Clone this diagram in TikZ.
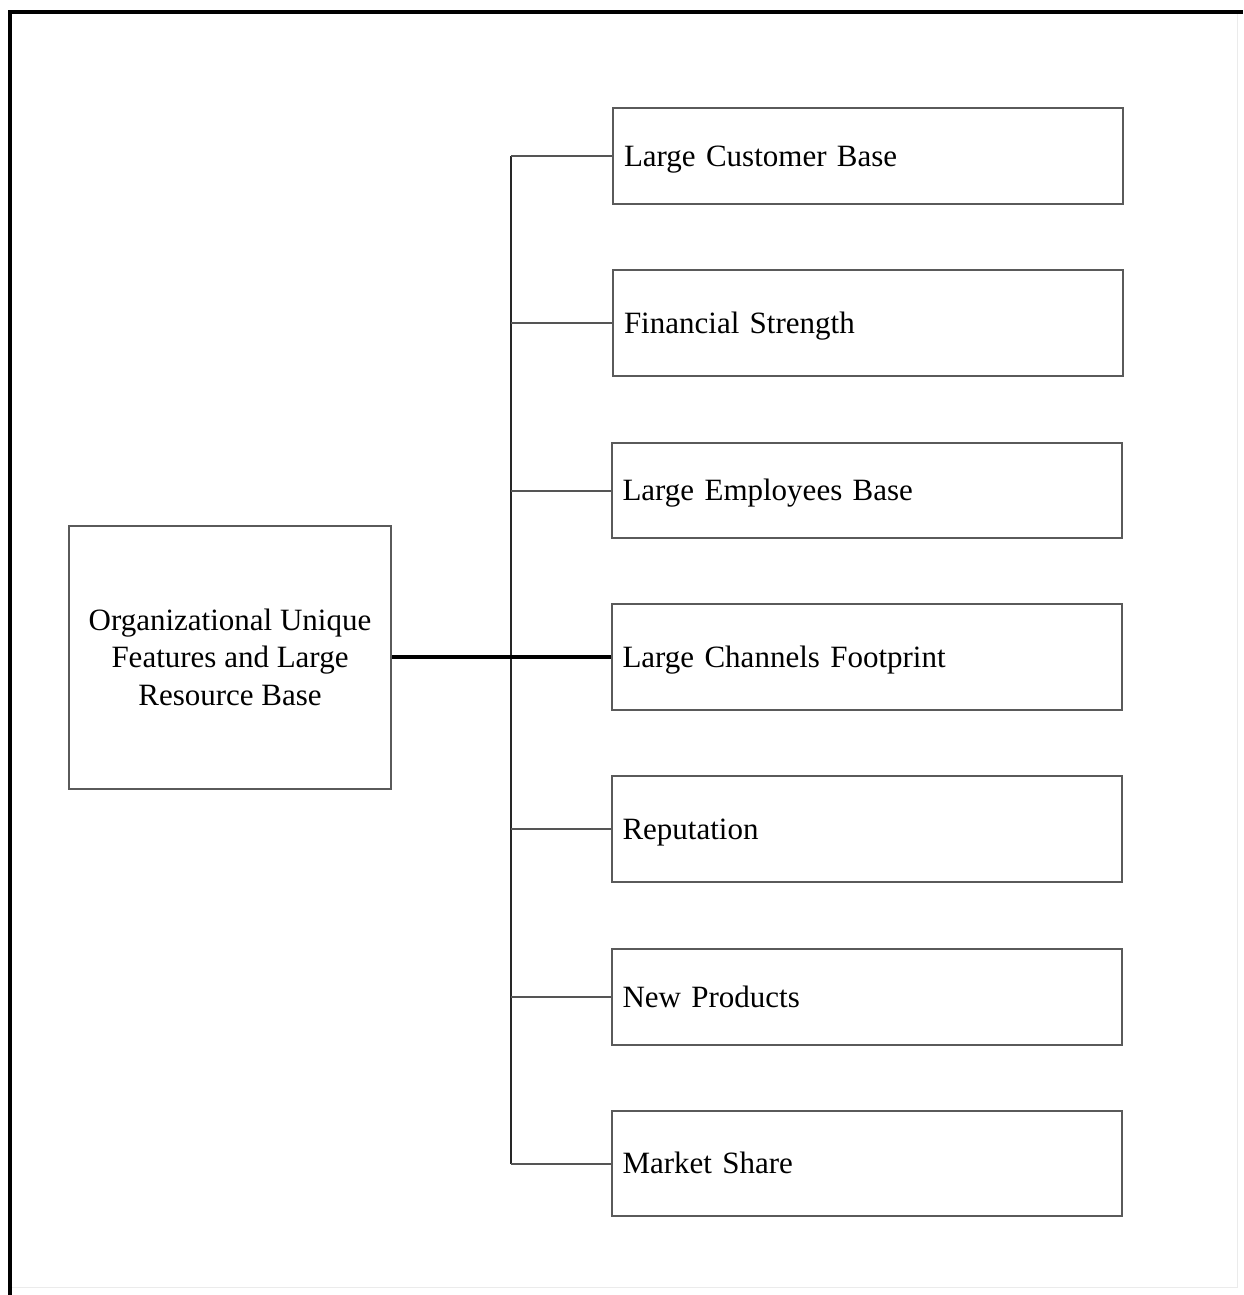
\documentclass[tikz,border=0pt]{standalone}
\usepackage{fontspec}
\setmainfont{Liberation Serif}
\begin{document}
\begin{tikzpicture}[x=1pt,y=-1pt,
  itembox/.style={draw=boxgray, line width=2pt, minimum width=510pt,
    text width=488pt, inner xsep=11pt, align=left,
    text height=24pt, text depth=4pt,
    font=\fontsize{31}{36}\selectfont},
  rootbox/.style={draw=boxgray, line width=2pt, minimum width=322pt,
    minimum height=263pt, align=center,
    font=\fontsize{31}{37.5}\selectfont},
  branch/.style={draw=linegray, line width=2pt},
  trunk/.style={draw=black!85, line width=2.5pt},
  mainlink/.style={draw=black, line width=3.5pt}]
\definecolor{boxgray}{HTML}{5A5A5A}
\definecolor{linegray}{HTML}{555555}
\useasboundingbox (0,0) rectangle (1243,1295);
% outer frame
\draw[black!8, line width=1pt] (1237,12) -- (1237,1287) -- (10,1287);
\draw[black, line width=3.5pt] (10,1295) -- (10,12) -- (1243,12);

% root node
\node[rootbox] (root) at (230,657) {Organizational Unique\\Features and Large\\Resource Base};

% resource items
\node[itembox, minimum height=96pt]  (b1) at (868,156)   {Large Customer Base};
\node[itembox, minimum height=106pt] (b2) at (868,323)   {Financial Strength};
\node[itembox, minimum height=95pt]  (b3) at (866.5,490.5) {Large Employees Base};
\node[itembox, minimum height=106pt] (b4) at (866.5,657) {Large Channels Footprint};
\node[itembox, minimum height=106pt] (b5) at (866.5,829) {Reputation};
\node[itembox, minimum height=96pt]  (b6) at (866.5,997) {New Products};
\node[itembox, minimum height=105pt] (b7) at (866.5,1163.5) {Market Share};

% bus connectors
\coordinate (top) at (511,156);
\coordinate (bot) at (511,1163.5);
\draw[trunk] (top) -- (bot);
\foreach \b in {b1,b2,b3,b5,b6,b7}
  \draw[branch] (511,0 |- \b.west) -- (\b.west);
\draw[mainlink] (root.east) -- (b4.west);
\end{tikzpicture}
\end{document}
